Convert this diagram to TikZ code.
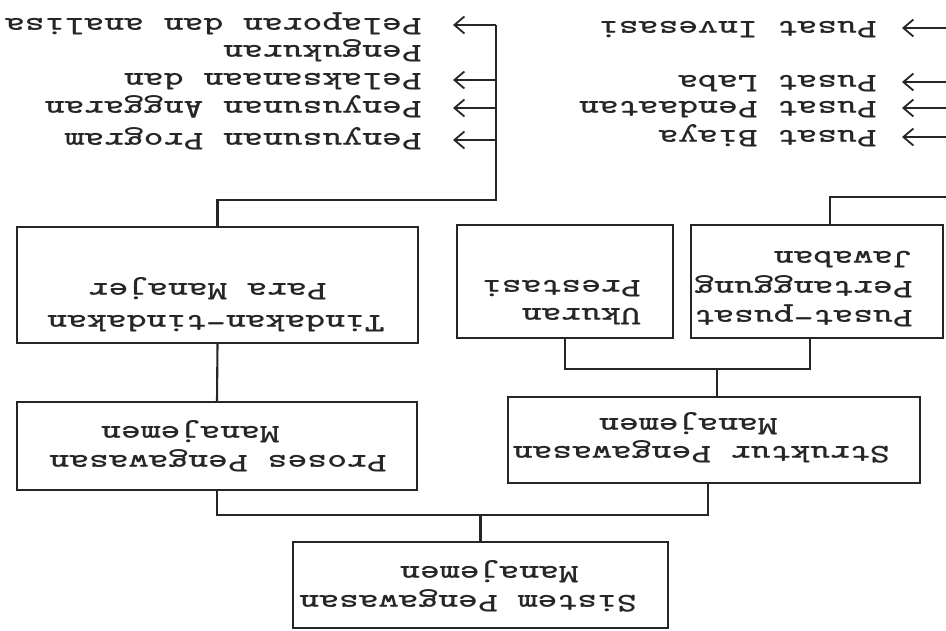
\documentclass[tikz,border=0pt]{standalone}
\usetikzlibrary{arrows.meta}
\begin{document}
\begin{tikzpicture}[x=1pt,y=-1pt,
  box/.style n args={2}{draw=black!85, line width=2.4pt, minimum width=#1, minimum height=#2, inner sep=0pt},
  txt/.style={rotate=180, xscale=1.40, font=\fontsize{27}{29}\selectfont\ttfamily\bfseries, inner sep=0pt, anchor=west, text height=19pt, text depth=6pt, text=black!85},
  con/.style={draw=black!85, line width=2.1pt},
  arr/.style={con, -{Straight Barb[length=10pt,width=17pt,line width=1.8pt]}}]
\fill[white] (0,0) rectangle (946,631);
\useasboundingbox (0,0) rectangle (946,631);
\clip (0,0) rectangle (946,631);

% boxes
\node[box={375pt}{86pt}] (sistem) at (480.5,585) {};
\node[box={400pt}{88pt}] (proses) at (217,446) {};
\node[box={412pt}{86pt}] (struktur) at (714,440) {};
\node[box={401pt}{116pt}] (tindakan) at (217.5,285) {};
\node[box={216pt}{113pt}] (ukuran) at (565,281.5) {};
\node[box={252pt}{113pt}] (pusat) at (817,281.5) {};

% box texts
\node[txt] (s1) at (637,602) {Sistem Pengawasan};
\node[txt] (s2) at (579,573) {Manajemen};
\node[txt] (p1) at (387,462) {Proses Pengawasan};
\node[txt] (p2) at (280,433) {Manajemen};
\node[txt] (k1) at (890,453) {Struktur Pengawasan};
\node[txt] (k2) at (778,425) {Manajemen};
\node[txt] (t1) at (385,322) {Tindakan-tindakan};
\node[txt] (t2) at (327,290) {Para Manajer};
\node[txt] (u1) at (641,315) {Ukuran};
\node[txt] (u2) at (641,287) {Prestasi};
\node[txt] (c1) at (913,317) {Pusat-pusat};
\node[txt] (c2) at (913,288) {Pertanggung};
\node[txt] (c3) at (913,258) {Jawaban};

% left list
\node[txt] (l1) at (422,140) {Penyusunan Program};
\node[txt] (l2) at (422,108) {Penyusunan Anggaran};
\node[txt] (l3) at (422,80) {Pelaksanaan dan};
\node[txt] (l3b) at (422,52) {Pengukuran};
\node[txt] (l4) at (422,25) {Pelaporan dan analisa};

% right list
\node[txt] (r1) at (877,137) {Pusat Biaya};
\node[txt] (r2) at (877,108) {Pusat Pendaatan};
\node[txt] (r3) at (877,82) {Pusat Laba};
\node[txt] (r4) at (877,28) {Pusat Invesasi};

% junction coordinates
\coordinate (ks) at ([xshift=-6pt]struktur.south);
\coordinate (kn) at ([xshift=3pt]struktur.north);
\coordinate (cs) at ([xshift=-7pt]pusat.south);
\coordinate (cn) at ([xshift=13pt]pusat.north);
\coordinate (j1) at (482,515);
\coordinate (j2) at (717,369);
\coordinate (lb) at (496,200);
\coordinate (lt) at (496,25);
\coordinate (rb) at (955,197);
\coordinate (rt) at (955,28);

% tree connectors
\draw[con] (sistem.north) -- (sistem.north |- j1);
\draw[con] (proses.south) |- (ks |- j1) -- (ks);
\draw[con] (kn) -- (kn |- j2);
\draw[con] (ukuran.south) |- (cs |- j2) -- (cs);
\draw[con] (proses.north) -- (tindakan.south);
\draw[con] (tindakan.north) |- (lb) -- (lt);
\draw[con] (cn) |- (rb) -- (rt);

% left arrows
\draw[arr, shorten >=31pt] (lt) -- (l4.west);
\draw[arr, shorten >=31pt] (l3.west -| lb) -- (l3.west);
\draw[arr, shorten >=31pt] (l2.west -| lb) -- (l2.west);
\draw[arr, shorten >=31pt] (l1.west -| lb) -- (l1.west);

% right arrows
\draw[arr, shorten >=25pt] (rt) -- (r4.west);
\draw[arr, shorten >=25pt] (r3.west -| rb) -- (r3.west);
\draw[arr, shorten >=25pt] (r2.west -| rb) -- (r2.west);
\draw[arr, shorten >=25pt] (r1.west -| rb) -- (r1.west);
\end{tikzpicture}
\end{document}
